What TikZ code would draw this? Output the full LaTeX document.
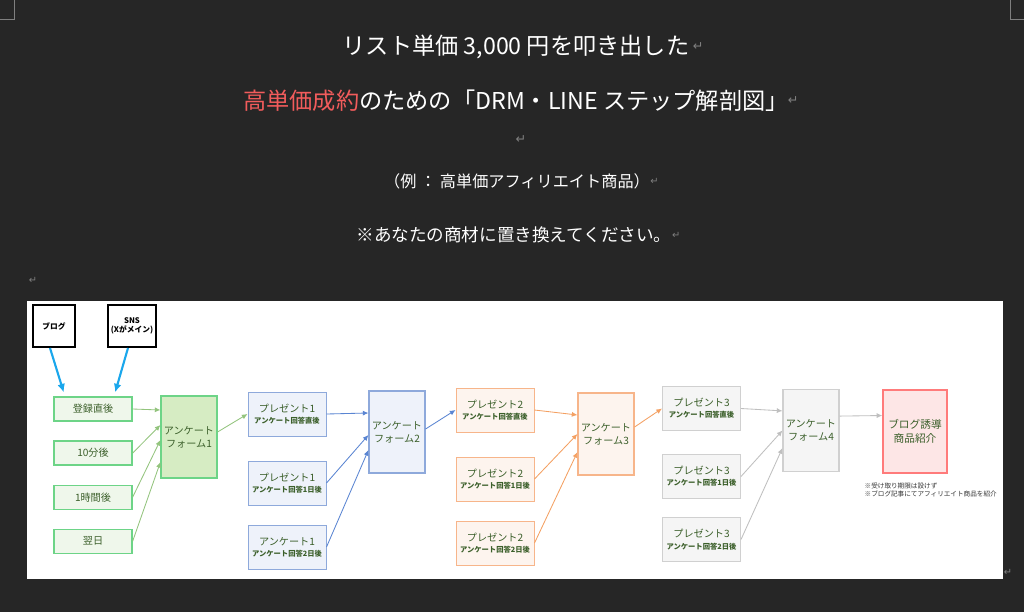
\documentclass[tikz,border=0pt]{standalone}
\usepackage{fontspec}
\setmainfont{Noto Sans CJK JP}
\newfontfamily\symfont{DejaVu Sans}
\usepackage{xcolor}
\definecolor{pagebg}{HTML}{262626}
\definecolor{markgray}{HTML}{7F7F7F}
\definecolor{titlered}{HTML}{F25C5C}
\definecolor{nodetext}{HTML}{3B5F2A}
\definecolor{feedblue}{HTML}{1AA7EC}
\definecolor{greenline}{HTML}{6DD487}
\definecolor{greenfill}{HTML}{EFF7EB}
\definecolor{greenform}{HTML}{D6ECC3}
\definecolor{greenarrow}{HTML}{93C47D}
\definecolor{blueline}{HTML}{8EA9DB}
\definecolor{bluefill}{HTML}{EEF2FA}
\definecolor{bluearrow}{HTML}{5A85D2}
\definecolor{orangeline}{HTML}{F7B58A}
\definecolor{orangefill}{HTML}{FDF4EE}
\definecolor{orangearrow}{HTML}{F4A062}
\definecolor{grayline}{HTML}{D0D0D0}
\definecolor{grayfill}{HTML}{F5F5F5}
\definecolor{grayarrow}{HTML}{BFBFBF}
\definecolor{goalline}{HTML}{FF7B7B}
\definecolor{goalfill}{HTML}{FDE6E6}
\usetikzlibrary{
  positioning,
  arrows.meta
}
\newcommand{\giftsub}{\fontsize{5.2}{6.2}\selectfont\bfseries}

\begin{document}
\begin{tikzpicture}[
  x=0.025cm, y=-0.025cm,
  node distance=0.47cm and 0.75cm,
  every node/.style={
    font=\fontsize{7.2}{9}\selectfont,
    align=center,
    text=nodetext,
    inner sep=1pt
  },
  titletxt/.style={text=white},
  retmark/.style={text=markgray, font=\symfont\fontsize{9}{10}\selectfont},
  srcbox/.style={
    draw=black, line width=1.4pt, fill=white, text=black,
    minimum width=1.05cm, minimum height=1.05cm,
    font=\fontsize{5.5}{6.5}\selectfont\bfseries
  },
  stepbox/.style={
    draw=greenline, line width=0.9pt, fill=greenfill,
    minimum width=1.95cm, minimum height=0.6cm
  },
  formbox/.style={line width=0.8pt, minimum width=1.4cm, minimum height=2.05cm},
  giftbox/.style={line width=0.7pt, minimum width=1.95cm, minimum height=1.1cm},
  sgreen/.style={draw=greenline, fill=greenform},
  sblue/.style={draw=blueline, fill=bluefill},
  sorange/.style={draw=orangeline, fill=orangefill},
  sgray/.style={draw=grayline, fill=grayfill},
  arr/.style={-{Latex[length=4pt,width=3.6pt]}, line width=0.6pt},
  feed/.style={-{Latex[length=6pt,width=5.5pt]}, line width=1.5pt, color=feedblue, shorten >=3pt}
]

% Page and panel
\fill[pagebg] (0,0) rectangle (1024,612);
\useasboundingbox (0,0) rectangle (1024,612);
\draw[markgray, line width=0.6pt] (14,0) -- (14,19) -- (0,19);
\draw[markgray, line width=0.6pt] (1010,0) -- (1010,19) -- (1024,19);
\fill[white] (27,301) rectangle (1003,579);

% Heading
\node[titletxt, font=\fontsize{16.5}{20}\selectfont] (title1) at (516,47)
  {リスト単価 3,000 円を叩き出した};
\node[retmark, right=0pt of title1] (ret1) {↵};
\node[titletxt, font=\fontsize{16.5}{20}\selectfont] (title2) at (516,101)
  {\textcolor{titlered}{高単価成約}のための「DRM・LINE ステップ解剖図」};
\node[retmark, right=-3pt of title2] (ret2) {↵};
\node[retmark] (ret3) at (521,140) {↵};
\node[titletxt, font=\fontsize{11.5}{14}\selectfont] (example) at (517,181)
  {（例 ： 高単価アフィリエイト商品）};
\node[retmark, font=\symfont\fontsize{7}{8}\selectfont, right=-2pt of example] (ret4) {↵};
\node[titletxt, font=\fontsize{12.5}{15}\selectfont] (replace) at (514,235)
  {※あなたの商材に置き換えてください。};
\node[retmark, font=\symfont\fontsize{7}{8}\selectfont, right=-2pt of replace] (ret5) {↵};
\node[retmark, font=\symfont\fontsize{7}{8}\selectfont] (ret6) at (33,280) {↵};
\node[retmark, font=\symfont\fontsize{7}{8}\selectfont] (ret7) at (1008,572) {↵};

% Sources
\node[srcbox] (blog) at (54,326) {ブログ};
\node[srcbox, minimum width=1.2cm] (sns) at (132,326) {SNS\\(Xがメイン)};

% Column 1: timing
\node[stepbox] (step1) at (93,409) {登録直後};
\node[stepbox, below=of step1] (step2) {10分後};
\node[stepbox, below=of step2] (step3) {1時間後};
\node[stepbox, below=of step3] (step4) {翌日};
\node[formbox, sgreen] (form1) at (189,437) {アンケート\\フォーム1};

% Column 2: present 1
\node[giftbox, sblue] (p1a) at (287,414)
  {プレゼント1\\[-1pt]\giftsub アンケート回答直後};
\node[giftbox, sblue, below=0.6cm of p1a] (p1b)
  {プレゼント1\\[-1pt]\giftsub アンケート回答1日後};
\node[giftbox, sblue, below=0.475cm of p1b] (p1c)
  {アンケート1\\[-1pt]\giftsub アンケート回答2日後};
\node[formbox, sblue] (form2) at (397,432) {アンケート\\フォーム2};

% Column 3: present 2
\node[giftbox, sorange] (p2a) at (495,410)
  {プレゼント2\\[-1pt]\giftsub アンケート回答直後};
\node[giftbox, sorange, below=0.6cm of p2a] (p2b)
  {プレゼント2\\[-1pt]\giftsub アンケート回答1日後};
\node[giftbox, sorange, below=0.475cm of p2b] (p2c)
  {プレゼント2\\[-1pt]\giftsub アンケート回答2日後};
\node[formbox, sorange] (form3) at (606,434) {アンケート\\フォーム3};

% Column 4: present 3
\node[giftbox, sgray] (p3a) at (701.5,408.5)
  {プレゼント3\\[-1pt]\giftsub アンケート回答直後};
\node[giftbox, sgray, below=0.575cm of p3a] (p3b)
  {プレゼント3\\[-1pt]\giftsub アンケート回答1日後};
\node[giftbox, sgray, below=0.45cm of p3b] (p3c)
  {プレゼント3\\[-1pt]\giftsub アンケート回答2日後};
\node[formbox, sgray] (form4) at (811,430.5) {アンケート\\フォーム4};

% Goal
\node[formbox, draw=goalline, fill=goalfill, line width=1pt,
      minimum width=1.6cm, minimum height=2.075cm,
      font=\fontsize{7.6}{10}\selectfont] (goal) at (915,431.5)
  {ブログ誘導\\商品紹介};
\node[anchor=north west, align=left, text=black!80,
      font=\fontsize{4.7}{6}\selectfont] (note) at (863,481)
  {※受け取り期限は設けず\\※ブログ記事にてアフィリエイト商品を紹介};

% Arrows
\draw[feed] ([xshift=-0.1cm]blog.south) -- ([xshift=-0.7cm]step1.north);
\draw[feed] ([xshift=-0.1cm]sns.south)  -- ([xshift=0.525cm]step1.north);

\draw[arr, greenarrow] (step1.east) -- ([yshift=0.675cm]form1.west);
\draw[arr, greenarrow] (step2.east) -- ([yshift=0.3cm]form1.west);
\draw[arr, greenarrow] (step3.east) -- ([yshift=-0.075cm]form1.west);
\draw[arr, greenarrow] (step4.east) -- ([yshift=-0.625cm]form1.west);
\draw[arr, greenarrow] ([yshift=0.125cm]form1.east) -- (p1a.west);

\draw[arr, bluearrow] (p1a.east) -- ([yshift=0.475cm]form2.west);
\draw[arr, bluearrow] (p1b.east) -- ([yshift=-0.075cm]form2.west);
\draw[arr, bluearrow] (p1c.east) -- ([yshift=-0.45cm]form2.west);
\draw[arr, bluearrow] ([yshift=0.075cm]form2.east) -- (p2a.west);

\draw[arr, orangearrow] (p2a.east) -- ([yshift=0.475cm]form3.west);
\draw[arr, orangearrow] (p2b.east) -- (form3.west);
\draw[arr, orangearrow] (p2c.east) -- ([yshift=-0.45cm]form3.west);
\draw[arr, orangearrow] ([yshift=0.175cm]form3.east) -- (p3a.west);

\draw[arr, grayarrow] (p3a.east) -- ([yshift=0.49cm]form4.west);
\draw[arr, grayarrow] (p3b.east) -- (form4.west);
\draw[arr, grayarrow] (p3c.east) -- ([yshift=-0.44cm]form4.west);
\draw[arr, grayarrow] ([yshift=0.36cm]form4.east) -- ([yshift=0.4cm]goal.west);

\end{tikzpicture}
\end{document}
